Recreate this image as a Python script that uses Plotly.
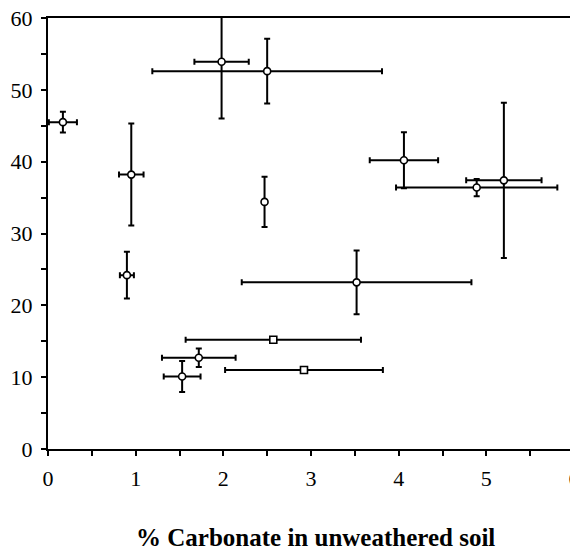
import plotly.graph_objects as go

# carbonate (%) vs value, with error bars
carbonate = [0.17, 0.95, 1.98, 2.50, 2.47, 0.90, 2.57, 1.72, 1.53, 2.92, 3.52, 4.06, 4.89, 5.20]
value = [45.5, 38.2, 53.9, 52.6, 34.4, 24.2, 15.2, 12.7, 10.1, 11.0, 23.2, 40.2, 36.4, 37.4]
carbonate_err = [0.16, 0.14, 0.31, 1.31, 0.0, 0.08, 1.0, 0.42, 0.21, 0.9, 1.31, 0.39, 0.92, 0.43]
value_err = [1.45, 7.1, 7.9, 4.5, 3.5, 3.25, 0.0, 1.3, 2.15, 0.0, 4.45, 3.9, 1.2, 10.8]
symbols = ["circle"] * 6 + ["square", "circle", "circle", "square"] + ["circle"] * 4

font = "Liberation Serif, Times New Roman, serif"

fig = go.Figure()
fig.add_trace(go.Scatter(
    x=carbonate, y=value, mode="markers",
    marker=dict(symbol=symbols, size=7, color="white",
                line=dict(color="black", width=1.6)),
    error_x=dict(type="data", array=carbonate_err, color="black",
                 thickness=2, width=3),
    error_y=dict(type="data", array=value_err, color="black",
                 thickness=2, width=3),
    showlegend=False,
))

axis_style = dict(
    showline=True, linecolor="black", linewidth=2, mirror=True,
    showgrid=False, zeroline=False, automargin=False,
    ticks="outside", ticklen=5, tickwidth=1.5, tickcolor="black",
    ticklabeloverflow="allow", ticklabelstandoff=4,
    tickfont=dict(family=font, size=22, color="black"),
)
fig.update_xaxes(range=[0, 6], dtick=1, tick0=0,
                 minor=dict(dtick=0.5, ticks="outside", ticklen=5,
                            tickwidth=1.5, tickcolor="black"),
                 **axis_style)
fig.update_yaxes(range=[0, 60], dtick=10, tick0=0,
                 minor=dict(dtick=5, ticks="outside", ticklen=5,
                            tickwidth=1.5, tickcolor="black"),
                 **axis_style)

fig.add_annotation(
    text="% Carbonate in unweathered soil", xref="paper", yref="paper",
    x=0.508, y=-0.206, xanchor="center", yanchor="middle", showarrow=False,
    font=dict(family=font, size=25, color="black", weight="bold"),
)

# the page body adds an 8px margin, so the figure is sized to fit inside it
fig.update_layout(
    width=570, height=545,
    margin=dict(l=40, r=4, t=10, b=104),
    plot_bgcolor="white", paper_bgcolor="white",
)

fig.write_html("out.html")
